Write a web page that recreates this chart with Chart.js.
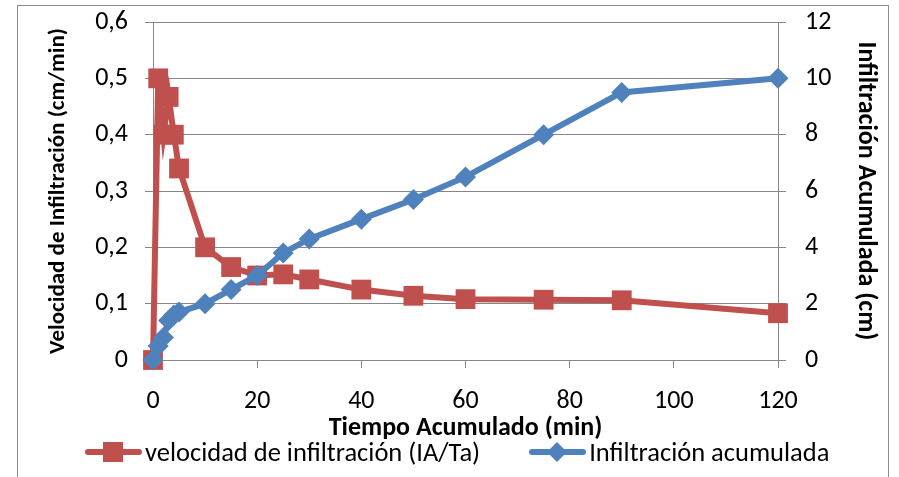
<!DOCTYPE html>
<html>
<head>
<meta charset="utf-8">
<script src="https://cdn.jsdelivr.net/npm/chart.js@4.4.1/dist/chart.umd.min.js"></script>
<style>
  html, body { margin: 0; padding: 0; background: #fff; }
  #wrap { position: relative; width: 899px; height: 477px; overflow: hidden; }
  #frame { position: absolute; left: 17px; top: 5px; width: 872px; height: 490px; border: 1px solid #8c8c8c; box-sizing: border-box; pointer-events: none; }
  #leyenda { position: absolute; left: 85px; top: 436px; height: 32px; display: flex; align-items: center; font-family: Carlito, Lato, sans-serif; font-size: 26.5px; color: #000; white-space: nowrap; }
  #leyenda .item { display: flex; align-items: center; margin-right: 49px; }
  #leyenda canvas { margin-right: 3px; }
</style>
</head>
<body>
<div id="wrap">
  <canvas id="infiltracionChart" width="899" height="477"></canvas>
  <div id="leyenda"></div>
  <div id="frame"></div>
</div>
<script>
// datos
const tiempo = [0, 1, 2, 3, 4, 5, 10, 15, 20, 25, 30, 40, 50, 60, 75, 90, 120];
const velocidad = [0, 0.5, 0.4, 0.467, 0.4, 0.34, 0.2, 0.165, 0.15, 0.152, 0.143, 0.125, 0.114, 0.108, 0.107, 0.106, 0.083];
const acumulada = [0, 0.5, 0.8, 1.4, 1.6, 1.7, 2.0, 2.5, 3.0, 3.8, 4.3, 5.0, 5.7, 6.5, 8.0, 9.5, 10.0];
const etiquetaVelocidad = 'velocidad de infiltración (IA/Ta)';
const etiquetaAcumulada = 'Infiltración acumulada';

const ROJO = '#C0504D';
const AZUL = '#4F81BD';
const GRIS = '#868686';
const FUENTE = 'Carlito, Lato, sans-serif';

// simbolo de leyenda: linea + marcador
function legendSymbol(color, style) {
  const c = document.createElement('canvas');
  c.width = 57;
  c.height = 22;
  const ctx = c.getContext('2d');
  ctx.strokeStyle = color;
  ctx.lineWidth = 6;
  ctx.lineCap = 'round';
  ctx.beginPath();
  ctx.moveTo(3, 11);
  ctx.lineTo(54, 11);
  ctx.stroke();
  ctx.fillStyle = color;
  if (style === 'rect') {
    ctx.fillRect(18, 1, 20, 20);
  } else {
    ctx.beginPath();
    ctx.moveTo(28, 1);
    ctx.lineTo(38, 11);
    ctx.lineTo(28, 21);
    ctx.lineTo(18, 11);
    ctx.closePath();
    ctx.fill();
  }
  return c;
}

// leyenda html (linea con marcador, como en Excel)
const htmlLegendPlugin = {
  id: 'htmlLegend',
  afterUpdate(chart) {
    const box = document.getElementById('leyenda');
    box.innerHTML = '';
    chart.data.datasets.forEach((ds) => {
      const item = document.createElement('div');
      item.className = 'item';
      item.appendChild(legendSymbol(ds.borderColor, ds.pointStyle));
      const span = document.createElement('span');
      span.textContent = ds.label;
      item.appendChild(span);
      box.appendChild(item);
    });
  },
};

// ancho fijo del eje y sin margen extra arriba/abajo
function fixAxis(width) {
  return function (scale) {
    scale.width = width;
    scale.paddingTop = 0;
    scale.paddingBottom = 0;
  };
}

const chartInit = {
  chart: null,

  init: function () {
    this.chart = new Chart(document.getElementById('infiltracionChart'), {
      type: 'line',
      data: {
        datasets: [
          {
            label: etiquetaVelocidad,
            data: tiempo.map((t, i) => ({ x: t, y: velocidad[i] })),
            yAxisID: 'y',
            order: 1, // debajo de la serie azul
            borderColor: ROJO,
            backgroundColor: ROJO,
            borderWidth: 6,
            pointStyle: 'rect',
            pointRadius: 14,
            pointBorderWidth: 0,
            tension: 0,
            clip: false,
          },
          {
            label: etiquetaAcumulada,
            data: tiempo.map((t, i) => ({ x: t, y: acumulada[i] })),
            yAxisID: 'y2',
            order: 0,
            borderColor: AZUL,
            backgroundColor: AZUL,
            borderWidth: 6,
            pointStyle: 'rectRot',
            pointRadius: 10.5,
            pointBorderWidth: 0,
            tension: 0,
            clip: false,
          },
        ],
      },
      options: {
        responsive: false,
        animation: false,
        devicePixelRatio: 1,
        layout: { padding: { left: 30, right: 0, top: 22, bottom: 37 } },
        scales: {
          x: {
            type: 'linear',
            min: 0,
            max: 120,
            ticks: { stepSize: 20, color: '#000', font: { family: FUENTE, size: 26 }, padding: 18 },
            grid: { drawOnChartArea: false, color: GRIS, tickLength: 8 },
            border: { color: GRIS },
            title: {
              display: true,
              text: 'Tiempo Acumulado (min)',
              color: '#000',
              font: { family: FUENTE, size: 26, weight: 'bold' },
              padding: { top: 0, bottom: -4 },
            },
            afterFit: function (scale) {
              scale.height = 80;
            },
          },
          y: {
            position: 'left',
            min: 0,
            max: 0.6,
            ticks: {
              stepSize: 0.1,
              color: '#000',
              font: { family: FUENTE, size: 26 },
              padding: 17,
              callback: (v) => (v === 0 ? '0' : v.toFixed(1).replace('.', ',')),
            },
            grid: { color: GRIS, tickLength: 8 },
            border: { color: GRIS },
            title: {
              display: true,
              text: 'Velocidad de Infiltración (cm/min)',
              color: '#000',
              font: { family: FUENTE, size: 23, weight: 'bold' },
              padding: { top: 14, bottom: 0 },
            },
            afterFit: fixAxis(123),
          },
          y2: {
            position: 'right',
            min: 0,
            max: 12,
            ticks: { stepSize: 2, color: '#000', font: { family: FUENTE, size: 26 }, padding: 19 },
            grid: { drawOnChartArea: false, color: GRIS, tickLength: 8 },
            border: { color: GRIS },
            title: {
              display: true,
              text: 'Infiltración Acumulada (cm)',
              color: '#000',
              font: { family: FUENTE, size: 26, weight: 'bold' },
              padding: { top: 18, bottom: 0 },
            },
            afterFit: fixAxis(121),
          },
        },
        plugins: {
          legend: { display: false },
          tooltip: { enabled: false },
        },
      },
      plugins: [htmlLegendPlugin],
    });
  },
};

chartInit.init();
</script>
</body>
</html>
